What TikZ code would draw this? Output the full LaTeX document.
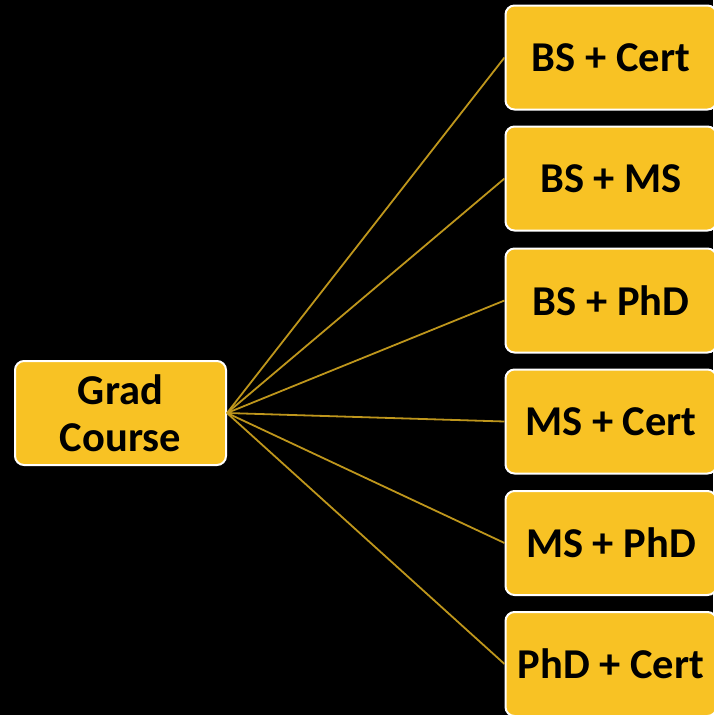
\documentclass[tikz,border=0pt]{standalone}
\usepackage{fontspec}
\setmainfont{Carlito}
\definecolor{boxgold}{HTML}{F8C224}
\definecolor{linegold}{HTML}{BE961C}
\tikzset{
  box/.style={draw=white, line width=2pt, fill=boxgold, rounded corners=9pt,
    minimum width=211pt, minimum height=104pt, inner sep=0pt,
    font=\fontsize{42.5}{47}\selectfont\bfseries, text=black, align=center},
  link/.style={draw=linegold, line width=1.8pt}
}
\begin{document}
\begin{tikzpicture}[x=1pt,y=-1pt]
\fill[black] (0,0) rectangle (713,715);
\useasboundingbox (0,0) rectangle (713,715);
\node[box] (grad) at (120.5,413) {Grad\\Course};
\node[box] (b1) at (611,57.5) {BS + Cert};
\node[box] (b2) at (611,178.5) {BS + MS};
\node[box] (b3) at (611,300.5) {BS + PhD};
\node[box] (b4) at (611,421.5) {MS + Cert};
\node[box] (b5) at (611,543) {MS + PhD};
\node[box] (b6) at (611,664) {PhD + Cert};
\foreach \n in {b1,b2,b3,b4,b5,b6}{
  \draw[link] (grad.east) -- (\n.west);
}
\end{tikzpicture}
\end{document}
